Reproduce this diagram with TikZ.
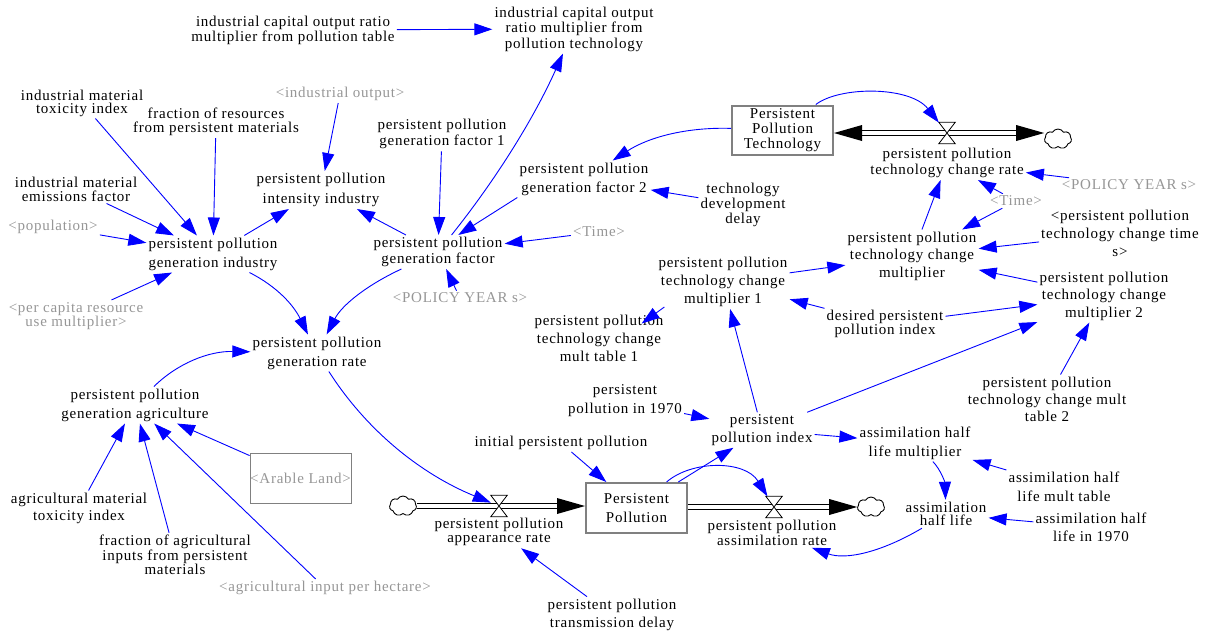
\documentclass[tikz,border=0pt]{standalone}
\usepackage{fontspec}
\setmainfont{Liberation Serif}[LetterSpace=5]
\usetikzlibrary{arrows.meta,shapes.symbols,calc}
\definecolor{shadowtext}{RGB}{150,150,150}
\definecolor{linkblue}{RGB}{0,0,255}
\definecolor{boxgray}{RGB}{128,128,128}
\newcommand\mylsk[1]{\fontsize{15}{#1}\selectfont}
\tikzset{
  var/.style={align=center, inner sep=2pt, font=\mylsk{18.5}, text=black},
  shadowvar/.style={var, text=shadowtext},
  lnk/.style={draw=linkblue, line width=0.9pt, -{Triangle[length=18pt,width=12pt]}},
  stock/.style={draw=boxgray, line width=2pt, minimum width=101pt, minimum height=49pt,
                inner sep=0pt, align=center},
  pipe/.style={draw=black, double=white, line width=1pt, double distance=3.5pt},
  valvebox/.style={minimum width=16pt, minimum height=21pt, inner sep=0pt},
  cloudsym/.style={cloud, draw=black, line width=0.9pt, cloud puffs=7, cloud puff arc=120,
                   minimum width=27pt, minimum height=20pt, inner sep=0pt, aspect=1.3},
  flowhead/.style={fill=black},
  valveshape/.style={draw=black, fill=white, line width=0.8pt},
}
\begin{document}
\begin{tikzpicture}[x=1pt,y=-1pt]
\useasboundingbox (0,0) rectangle (1208,635);

% ---------- industrial side ----------
\node[var, font=\mylsk{15}] (t1) at (293,30) {industrial capital output ratio\\multiplier from pollution table};
\node[var, font=\mylsk{15.5}] (t2) at (574,29) {industrial capital output\\ratio multiplier from\\pollution technology};
\node[var, font=\mylsk{13}] (imti) at (82,103) {industrial material\\toxicity index};
\node[var, font=\mylsk{14}] (fres) at (216,122) {fraction of resources\\from persistent materials};
\node[shadowvar] (iout) at (340,94) {<industrial output>};
\node[var, font=\mylsk{14}] (imef) at (76,189) {industrial material\\emissions factor};
\node[shadowvar] (pop) at (53,227) {<population>};
\node[var, font=\mylsk{19}] (ppgi) at (213,254) {persistent pollution\\generation industry};
\node[var, font=\mylsk{20}] (ppii) at (321,190) {persistent pollution\\intensity industry};
\node[shadowvar, font=\mylsk{13}] (pcru) at (76,316) {<per capita resource\\use multiplier>};
\node[var, font=\mylsk{16.5}] (gf1) at (442,134) {persistent pollution\\generation factor 1};
\node[var, font=\mylsk{16}] (gf) at (438,252) {persistent pollution\\generation factor};
\node[shadowvar] (pys1) at (460,298) {<POLICY YEAR s>};
\node[var, font=\mylsk{19}] (gf2) at (584,179) {persistent pollution\\generation factor 2};
\node[var, font=\mylsk{11.5}] (tdd) at (743,205) {technology\\development\\delay};
\node[shadowvar] (time1) at (599,232) {<Time>};

% ---------- pollution technology stock and its flow ----------
\node[stock, font=\mylsk{15}] (ppt) at (782.5,130) {Persistent\\Pollution\\Technology};
\node[valvebox] (vT) at (947,133) {};
\node[cloudsym] (cT) at (1058,139) {};
\node[var, font=\mylsk{16}] (rateT) at (947,163) {persistent pollution\\technology change rate};
\node[shadowvar] (pys2) at (1129,185) {<POLICY YEAR s>};
\node[shadowvar] (time2) at (1016,201) {<Time>};
\node[var, font=\mylsk{17.5}] (mult) at (912,256) {persistent pollution\\technology change\\multiplier};
\node[var, font=\mylsk{18}] (ctime) at (1120,233) {<persistent pollution\\technology change time\\s>};
\node[var, font=\mylsk{17.5}] (mult2) at (1104,296) {persistent pollution\\technology change\\multiplier 2};
\node[var, font=\mylsk{13.5}] (dppi) at (885,324) {desired persistent\\pollution index};
\node[var, font=\mylsk{17}] (tab2) at (1047,399) {persistent pollution\\technology change mult\\table 2};
\node[var, font=\mylsk{18}] (mult1) at (723,282) {persistent pollution\\technology change\\multiplier 1};
\node[var, font=\mylsk{18}] (tab1) at (599,338) {persistent pollution\\technology change\\mult table 1};
\node[var, font=\mylsk{19}] (pp70) at (625,401) {persistent\\pollution in 1970};
\node[var, font=\mylsk{18}] (ppi) at (762,430) {persistent\\pollution index};
\node[var, font=\mylsk{19}] (ahlm) at (915,443) {assimilation half\\life multiplier};
\node[var, font=\mylsk{19}] (ahlmt) at (1064,487) {assimilation half\\life mult table};
\node[var, font=\mylsk{13.5}] (ahl) at (946,514) {assimilation\\half life};
\node[var, font=\mylsk{18}] (ahl70) at (1091,527) {assimilation half\\life in 1970};

% ---------- persistent pollution stock and its flows ----------
\node[stock, minimum height=50pt, font=\mylsk{19}] (ppbox) at (636.5,508) {Persistent\\Pollution};
\node[valvebox] (vL) at (499,506) {};
\node[valvebox] (vR) at (774,507) {};
\node[cloudsym] (cL) at (403,506) {};
\node[cloudsym] (cR) at (871,507) {};
\node[var, font=\mylsk{14.5}] (rateP) at (499,532) {persistent pollution\\appearance rate};
\node[var, font=\mylsk{14.5}] (rateA) at (772,533) {persistent pollution\\assimilation rate};
\node[var, font=\mylsk{18.7}] (ptd) at (612,615) {persistent pollution\\transmission delay};
\node[var] (ipp) at (561,443) {initial persistent pollution};
\node[var, font=\mylsk{19}] (gr) at (317,353) {persistent pollution\\generation rate};

% ---------- agricultural side ----------
\node[var, font=\mylsk{19}] (ga) at (135,405) {persistent pollution\\generation agriculture};
\node[draw=boxgray, line width=0.8pt, minimum width=101pt, minimum height=50pt, inner sep=0pt,
      font=\mylsk{18.5}, text=shadowtext] (arable) at (300.5,478) {<Arable Land>};
\node[var, font=\mylsk{17}] (amti) at (79,508) {agricultural material\\toxicity index};
\node[var, font=\mylsk{12.5}] (fag) at (175,555) {fraction of agricultural\\inputs from persistent\\materials};
\node[shadowvar] (aiph) at (325,588) {<agricultural input per hectare>};

% ---------- pipes, flow heads and valves ----------
\coordinate (pT1) at (ppt.east |- vT.center);
\coordinate (pT2) at (cT.west |- vT.center);
\draw[pipe] ($(pT1)+(26,0)$) -- ($(pT2)+(-26,0)$);
\fill[flowhead] (pT1) -- ++(28,-8) -- ++(0,16) -- cycle;
\fill[flowhead] (pT2) -- ++(-28,-8) -- ++(0,16) -- cycle;

\coordinate (pL1) at (cL.east |- vL.center);
\coordinate (pL2) at (ppbox.west |- vL.center);
\draw[pipe] (pL1) -- ($(pL2)+(-26,0)$);
\fill[flowhead] (pL2) -- ++(-28,-8) -- ++(0,16) -- cycle;

\coordinate (pR1) at (ppbox.east |- vR.center);
\coordinate (pR2) at (cR.west |- vR.center);
\draw[pipe] (pR1) -- ($(pR2)+(-26,0)$);
\fill[flowhead] (pR2) -- ++(-28,-8) -- ++(0,16) -- cycle;

\foreach \v in {vT,vL,vR}
  \draw[valveshape] (\v.north west) -- (\v.north east) -- (\v.south west) -- (\v.south east) -- cycle;

% ---------- causal links ----------
\draw[lnk] (t1) -- (t2);
\draw[lnk] (imti) -- (ppgi);
\draw[lnk] (fres) -- (ppgi);
\draw[lnk] (imef) -- (ppgi);
\draw[lnk] (pop) -- (ppgi);
\draw[lnk] (pcru) -- (ppgi);
\draw[lnk] (iout) -- (ppii);
\draw[lnk] (ppgi) -- (ppii);
\draw[lnk] (gf) -- (ppii);
\draw[lnk] (gf1) -- (gf);
\draw[lnk] (gf2.south west) -- (gf.40);
\draw[lnk] (gf) .. controls (497,178) and (534,118) .. (t2);
\draw[lnk] (time1) -- (gf);
\draw[lnk] (pys1) -- (gf);
\draw[lnk] (ppt) .. controls (687,127) and (649,137) .. (gf2);
\draw[lnk] (tdd) -- (gf2);
\draw[lnk] (ppgi) .. controls (278,287) and (294,306) .. (gr);
\draw[lnk] (gf) .. controls (367,285) and (342,305) .. (gr);
\draw[lnk] (ga) .. controls (178,363) and (209,351) .. (gr);
\draw[lnk] (gr) .. controls (367,431) and (421,474) .. (vL);
\draw[lnk] (ptd) -- (rateP);
\draw[lnk] (amti) -- (ga);
\draw[lnk] (fag) -- (ga);
\draw[lnk] (aiph) -- (ga);
\draw[lnk] (arable) -- (ga);
\draw[lnk] (ipp) -- (ppbox);
\draw[lnk] (ppbox) -- (ppi);
\draw[lnk] (ppbox) .. controls (692,460) and (745,460) .. (vR);
\draw[lnk] (pp70) -- (ppi);
\draw[lnk] (ppi) -- (mult1);
\draw[lnk] (ppi) -- (mult2);
\draw[lnk] (ppi) -- (ahlm);
\draw[lnk] ([xshift=8pt,yshift=2pt]mult1.south west) -- ([xshift=-24pt,yshift=-11pt]tab1.north east);
\draw[lnk] (mult1) -- (mult);
\draw[lnk] (dppi) -- (mult1);
\draw[lnk] (dppi) -- (mult2);
\draw[lnk] (mult) -- (rateT);
\draw[lnk] (time2) -- (rateT);
\draw[lnk] (pys2) -- (rateT);
\draw[lnk] (time2) -- (mult);
\draw[lnk] (ctime) -- (mult);
\draw[lnk] (mult2) -- (mult);
\draw[lnk] (tab2) -- (mult2);
\draw[lnk] (ahlm) .. controls (941,470) and (945,483) .. (ahl);
\draw[lnk] (ahlmt) -- (ahlm);
\draw[lnk] (ahl70) -- (ahl);
\draw[lnk] (ahl) .. controls (880,553) and (845,560) .. (rateA);
\draw[lnk] (ppt) .. controls (840,86) and (910,86) .. (vT);
\end{tikzpicture}
\end{document}
